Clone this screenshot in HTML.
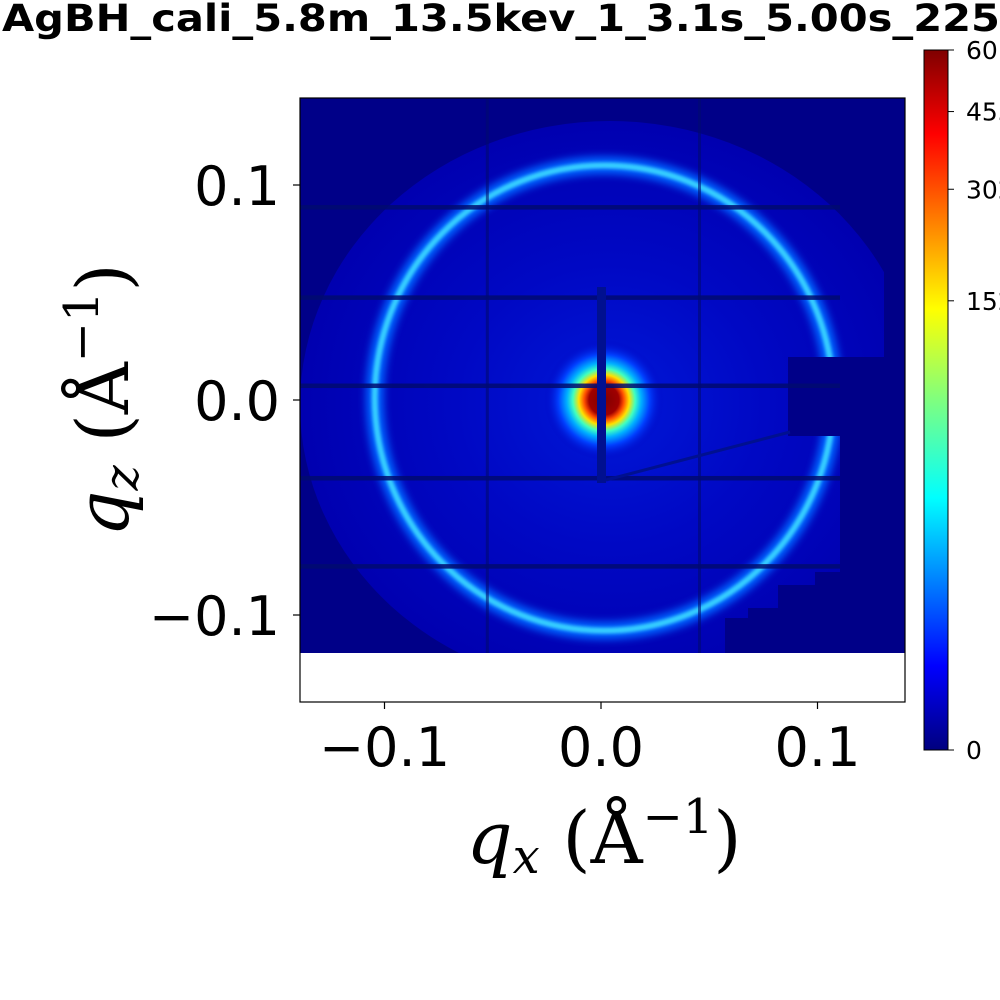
<!DOCTYPE html>
<html><head><meta charset="utf-8"><style>
body{margin:0;background:#fff;}
svg{display:block;font-family:"DejaVu Sans","Liberation Sans",sans-serif;}
</style></head><body>
<svg id="chart" width="1000" height="1000" viewBox="0 0 1000 1000" xmlns="http://www.w3.org/2000/svg">
<defs>
<clipPath id="plotclip"><rect x="300" y="98" width="605" height="555"/></clipPath>
<radialGradient id="beam" cx="0.5" cy="0.5" r="0.5">
<stop offset="0" stop-color="#800000"/>
<stop offset="0.25" stop-color="#a00000"/>
<stop offset="0.33" stop-color="#ff5000"/>
<stop offset="0.42" stop-color="#ffe000"/>
<stop offset="0.52" stop-color="#40ffc0"/>
<stop offset="0.62" stop-color="#00b0ff"/>
<stop offset="0.76" stop-color="#0040ff"/>
<stop offset="1" stop-color="#0000c0" stop-opacity="0"/>
</radialGradient>
<radialGradient id="disk" cx="0.5" cy="0.5" r="0.5">
<stop offset="0" stop-color="#0018d8"/>
<stop offset="0.5" stop-color="#0008c4"/>
<stop offset="1" stop-color="#0000b0"/>
</radialGradient>
<filter id="blur"><feGaussianBlur stdDeviation="4"/></filter>
<filter id="blur2"><feGaussianBlur stdDeviation="1.6"/></filter>
<linearGradient id="jet" x1="0" y1="1" x2="0" y2="0">
<stop offset="0" stop-color="#00007f"/>
<stop offset="0.12" stop-color="#0000ff"/>
<stop offset="0.36" stop-color="#00ffff"/>
<stop offset="0.5" stop-color="#7fff7f"/>
<stop offset="0.63" stop-color="#ffff00"/>
<stop offset="0.88" stop-color="#ff0000"/>
<stop offset="1" stop-color="#7f0000"/>
</linearGradient>
</defs>
<text x="2" y="31" font-size="37" font-weight="bold" textLength="998" lengthAdjust="spacingAndGlyphs">AgBH_cali_5.8m_13.5kev_1_3.1s_5.00s_225</text>
<g id="plot" clip-path="url(#plotclip)"></g>
<rect x="300" y="98" width="605" height="604" fill="none" stroke="#000" stroke-width="1.2"/>
<g id="axes"></g>
<text x="604" y="863" font-size="72" text-anchor="middle" font-family="DejaVu Serif, Liberation Serif, serif"><tspan font-style="italic">q</tspan><tspan font-style="italic" font-size="48" dy="10">x</tspan><tspan dy="-10"> (Å</tspan><tspan font-size="48" dy="-30">−1</tspan><tspan dy="30">)</tspan></text>
<text transform="translate(128,400) rotate(-90)" font-size="72" text-anchor="middle" font-family="DejaVu Serif, Liberation Serif, serif"><tspan font-style="italic">q</tspan><tspan font-style="italic" font-size="48" dy="10">z</tspan><tspan dy="-10"> (Å</tspan><tspan font-size="48" dy="-30">−1</tspan><tspan dy="30">)</tspan></text>
<rect x="924" y="50" width="24" height="700" fill="url(#jet)" stroke="#000" stroke-width="1"/>
<g id="cbar"></g>
</svg>
<script>
const xTicks=[-0.1,0.0,0.1];
const xTickLabels=["−0.1","0.0","0.1"];
const yTicks=[0.1,0.0,-0.1];
const yTickLabels=["0.1","0.0","−0.1"];
const cbTicks=[0,15,30,45,60];
const cbTickLabels=["0","152","302","455","60"];
const ringQ=[0.1045];
const gapRowsQ=[0.0895,0.0475,0.0065,-0.0365,-0.0775];
const gapColsQ=[-0.0525,0.0455];
const svgNS="http://www.w3.org/2000/svg";
const X=q=>601+q*2165, Y=q=>400-q*2150;
const CB=v=>750-700*Math.pow(v/60,0.32);
function mk(tag,attrs,parent){const e=document.createElementNS(svgNS,tag);for(const k in attrs)e.setAttribute(k,attrs[k]);parent.appendChild(e);return e;}
const plot=document.getElementById('plot');
let e;
e=mk('rect',{x:300,y:98,width:605,height:555,fill:'#000088'},plot);

e=mk('ellipse',{cx:610,cy:405,rx:310,ry:284,fill:'url(#disk)'},plot);

ringQ.forEach(q=>{
 const rx=X(q)-X(0)+3, ry=Y(0)-Y(q)+8;
 let g=mk('ellipse',{cx:604,cy:398,rx:rx,ry:ry,fill:'none',stroke:'#0060ff',"stroke-width":18,filter:'url(#blur)'},plot);
 
 let r=mk('ellipse',{cx:604,cy:398,rx:rx,ry:ry,fill:'none',stroke:'#38d0ff',"stroke-width":6,filter:'url(#blur2)'},plot);
 
});
e=mk('circle',{cx:604,cy:400,r:60,fill:'url(#beam)'},plot);

const masks=[[788,357,117,79],[840,357,65,296],[884,98,21,260],[815,572,90,81],[778,585,127,68],[748,608,157,45],[725,618,180,35]];
masks.forEach(m=>{
 let r=mk('rect',{x:m[0],y:m[1],width:m[2],height:m[3],fill:'#000088'},plot);
 
});
gapRowsQ.forEach(q=>{
 let l=mk('rect',{x:300,y:Y(q)-2.5,width:540,height:4.5,fill:'#000a70',opacity:0.85},plot);
 
});
gapColsQ.forEach(q=>{
 let l=mk('rect',{x:X(q)-1.5,y:98,width:3,height:555,fill:'#000a70',opacity:0.6},plot);
 
});
e=mk('rect',{x:597,y:287,width:9,height:196,fill:'#001090'},plot);

e=mk('line',{x1:606,y1:480,x2:790,y2:432,stroke:'#001090',"stroke-width":3},plot);

e=mk('rect',{x:300,y:653,width:605,height:49,fill:'#fff'},plot);

const axes=document.getElementById('axes');
xTicks.forEach((t,i)=>{
 let tk=mk('line',{x1:X(t),y1:702,x2:X(t),y2:709,stroke:'#000',"stroke-width":1.2},axes);
 
 let tx=mk('text',{x:X(t),y:766,"font-size":54,"text-anchor":"middle"},axes);tx.textContent=xTickLabels[i];
 
});
yTicks.forEach((t,i)=>{
 let tk=mk('line',{x1:293,y1:Y(t),x2:300,y2:Y(t),stroke:'#000',"stroke-width":1.2},axes);
 
 let tx=mk('text',{x:280,y:Y(t)+20,"font-size":54,"text-anchor":"end"},axes);tx.textContent=yTickLabels[i];
 
});
const cb=document.getElementById('cbar');
cbTicks.forEach((v,i)=>{
 let tk=mk('line',{x1:948,y1:CB(v),x2:954,y2:CB(v),stroke:'#000',"stroke-width":1},cb);
 
 let tx=mk('text',{x:966,y:CB(v)+9,"font-size":25},cb);tx.textContent=cbTickLabels[i];
 
});
</script>
</body></html>
